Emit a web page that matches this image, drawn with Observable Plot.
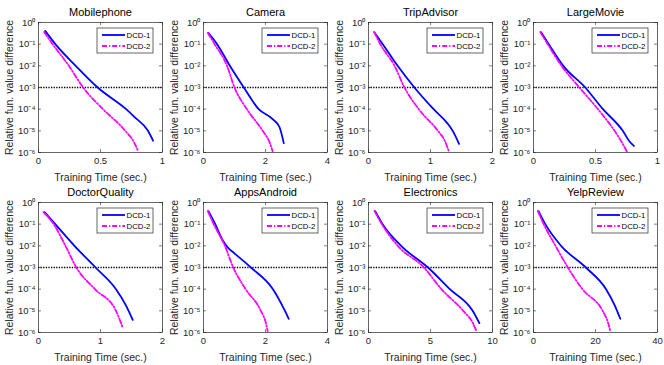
<!DOCTYPE html>
<html><head><meta charset="utf-8">
<script src="https://cdn.jsdelivr.net/npm/d3@7"></script>
<script src="https://cdn.jsdelivr.net/npm/@observablehq/plot@0.6"></script>
<style>
body{margin:0;background:#fff;}
#fig{position:relative;width:664px;height:365px;overflow:hidden;}
#fig > div{position:absolute;}
</style></head><body><div id="fig"></div>
<script>
// ---- data ----
const titles = ["Mobilephone","Camera","TripAdvisor","LargeMovie","DoctorQuality","AppsAndroid","Electronics","YelpReview"];
const xMax = [1, 4, 2, 1, 2, 4, 10, 40];
const xTicks = [[0,0.5,1],[0,2,4],[0,1,2],[0,0.5,1],[0,1,2],[0,2,4],[0,5,10],[0,20,40]];
const yTicks = [1e-6,1e-5,1e-4,1e-3,1e-2,1e-1,1];
const threshold = 1e-3;
const seriesNames = ["DCD-1","DCD-2"];
const xLabel = "Training Time (sec.)";
const yLabel = "Relative fun. value difference";

const dcd1Time = [
  [0.054,0.136,0.30,0.477,0.707,0.775,0.883,0.924],
  [0.16,0.44,0.85,1.30,1.78,2.23,2.45,2.59],
  [0.092,0.23,0.47,0.74,1.05,1.28,1.37,1.46],
  [0.06,0.123,0.24,0.417,0.56,0.72,0.77,0.81],
  [0.098,0.27,0.58,0.92,1.25,1.41,1.52],
  [0.16,0.38,0.60,0.78,1.0,1.53,2.23,2.62,2.75],
  [0.54,1.14,2.63,4.8,6.56,8.4,8.94],
  [1.63,3.8,8.9,16.9,23.4,26.2,28.0]
];
const dcd1Diff = [
  [0.41,1e-1,1e-2,1e-3,1e-4,4.3e-5,1e-5,3.5e-6],
  [0.33,1e-1,1e-2,1e-3,1e-4,3.5e-5,1.5e-5,2.7e-6],
  [0.36,1e-1,1e-2,1e-3,1e-4,2.1e-5,8.7e-6,2.5e-6],
  [0.36,1e-1,1e-2,1e-3,1e-4,1e-5,3.5e-6,2e-6],
  [0.36,1e-1,1e-2,1e-3,1e-4,1.8e-5,3.8e-6],
  [0.4,1e-1,2e-2,8.5e-3,4.5e-3,1e-3,1.05e-4,1.05e-5,4.3e-6],
  [0.4,1e-1,1e-2,1e-3,1e-4,1e-5,2.7e-6],
  [0.4,1e-1,1e-2,1e-3,1e-4,1.8e-5,4.3e-6]
];
const dcd2Time = [
  [0.046,0.114,0.245,0.36,0.52,0.70,0.77,0.80],
  [0.14,0.36,0.76,1.0,1.40,1.91,2.13,2.23],
  [0.092,0.19,0.42,0.58,0.81,1.12,1.23,1.30],
  [0.055,0.114,0.226,0.37,0.52,0.654,0.72,0.755],
  [0.08,0.245,0.435,0.61,0.91,1.25,1.36],
  [0.14,0.33,0.69,0.96,1.36,1.85,2.02,2.07],
  [0.49,1.08,2.36,4.47,5.88,7.64,8.45,8.73],
  [1.4,3.3,7.1,11.1,15.8,22.3,24.0,24.85]
];
const dcd2Diff = [
  [0.36,1e-1,1e-2,1e-3,1e-4,1e-5,3e-6,1.3e-6],
  [0.33,1e-1,1e-2,1e-3,1e-4,1e-5,3e-6,1.15e-6],
  [0.36,1e-1,1e-2,1e-3,1e-4,1e-5,3.5e-6,1.05e-6],
  [0.36,1e-1,1e-2,1e-3,1e-4,1e-5,2.5e-6,1.05e-6],
  [0.36,1e-1,1e-2,1e-3,1e-4,1e-5,1.6e-6],
  [0.4,1e-1,1e-2,1e-3,1e-4,1e-5,2.5e-6,1.15e-6],
  [0.4,1e-1,1e-2,1e-3,1e-4,1e-5,2.5e-6,1.05e-6],
  [0.4,1e-1,1e-2,1e-3,1e-4,1e-5,3e-6,1.05e-6]
];

// ---- style ----
const FONT = "'Liberation Sans', Arial, Helvetica, sans-serif";
const AX = "#262626";
const colors = ["#0000ff", "#ff00ff"];
const dashes = [null, "5,2,1.2,2"];
const LW = 1.8;

const sup = {"0":"⁰","1":"¹","2":"²","3":"³","4":"⁴","5":"⁵","6":"⁶","-":"⁻"};
const fmtPow = d => "10" + String(Math.round(Math.log10(d))).split("").map(c => sup[c]).join("");

function legendMark() {
  return (index, scales, values, dims) => {
    const g = d3.create("svg:g");
    const x0 = dims.width - dims.marginRight - 65, y0 = dims.marginTop + 6;
    g.append("rect").attr("x", x0).attr("y", y0).attr("width", 56).attr("height", 25)
      .attr("fill", "white").attr("stroke", AX).attr("stroke-width", 0.7);
    seriesNames.forEach((s, k) => {
      const y = y0 + 7 + k * 11;
      const ln = g.append("line").attr("x1", x0 + 5).attr("x2", x0 + 28).attr("y1", y).attr("y2", y)
        .attr("stroke", colors[k]).attr("stroke-width", LW);
      if (dashes[k]) ln.attr("stroke-dasharray", dashes[k]);
      g.append("text").attr("x", x0 + 29.5).attr("y", y).attr("dy", "0.35em")
        .attr("text-anchor", "start")
        .attr("font-size", 7.8).attr("fill", "#000").attr("font-family", FONT).text(s);
    });
    return g.node();
  };
}

const fig = document.getElementById("fig");
titles.forEach((title, i) => {
  const col = i % 4, row = Math.floor(i / 4);
  const xm = xMax[i];
  const k = 3 / 124, ky = 6 * 3 / 130;
  const series = [dcd1Time[i].map((t, j) => ({t, v: dcd1Diff[i][j]})),
                  dcd2Time[i].map((t, j) => ({t, v: dcd2Diff[i][j]}))];
  const chart = Plot.plot({
    width: 165, height: 186,
    marginLeft: 38, marginRight: 3, marginTop: 22, marginBottom: 34,
    style: {fontFamily: FONT, background: "transparent", overflow: "visible", color: AX},
    x: {domain: [0, xm]},
    y: {type: "log", domain: [1e-6, 1]},
    marks: [
      Plot.ruleY([threshold], {stroke: "#000", strokeWidth: 1.3, strokeDasharray: "1.3,1.3"}),
      Plot.line(series[0], {x: "t", y: "v", stroke: colors[0], strokeWidth: LW, curve: "monotone-x"}),
      Plot.line(series[1], {x: "t", y: "v", stroke: colors[1], strokeWidth: LW, strokeDasharray: dashes[1], curve: "monotone-x"}),
      Plot.ruleY(yTicks, {y: d => d, x1: 0, x2: xm * k, stroke: AX, strokeWidth: 0.6}),
      Plot.ruleY(yTicks, {y: d => d, x1: xm * (1 - k), x2: xm, stroke: AX, strokeWidth: 0.6}),
      Plot.ruleX(xTicks[i], {x: d => d, y1: 1e-6, y2: Math.pow(10, -6 + ky), stroke: AX, strokeWidth: 0.6}),
      Plot.ruleX(xTicks[i], {x: d => d, y1: Math.pow(10, -ky), y2: 1, stroke: AX, strokeWidth: 0.6}),
      Plot.frame({stroke: AX, strokeWidth: 0.7}),
      Plot.axisY({ticks: yTicks, tickFormat: fmtPow, tickSize: 0, tickPadding: 3, fontSize: 9.5, label: null, color: AX}),
      Plot.axisX({ticks: xTicks[i], tickFormat: d => String(d), tickSize: 0, tickPadding: 5, fontSize: 9.5, label: null, color: AX}),
      Plot.text([title], {frameAnchor: "top", dy: -10, lineAnchor: "middle", fontSize: 11, fill: "#000"}),
      Plot.text([yLabel], {frameAnchor: "left", dx: -29, rotate: -90, textAnchor: "middle", lineAnchor: "middle", fontSize: 10.5, fill: AX}),
      Plot.text([xLabel], {frameAnchor: "bottom", dy: 25, textAnchor: "middle", lineAnchor: "middle", fontSize: 10.5, fill: AX}),
      legendMark()
    ]
  });
  const wrap = document.createElement("div");
  wrap.style.left = (col * 165) + "px";
  wrap.style.top = (row * 180) + "px";
  wrap.appendChild(chart);
  fig.appendChild(wrap);
});
</script></body></html>
